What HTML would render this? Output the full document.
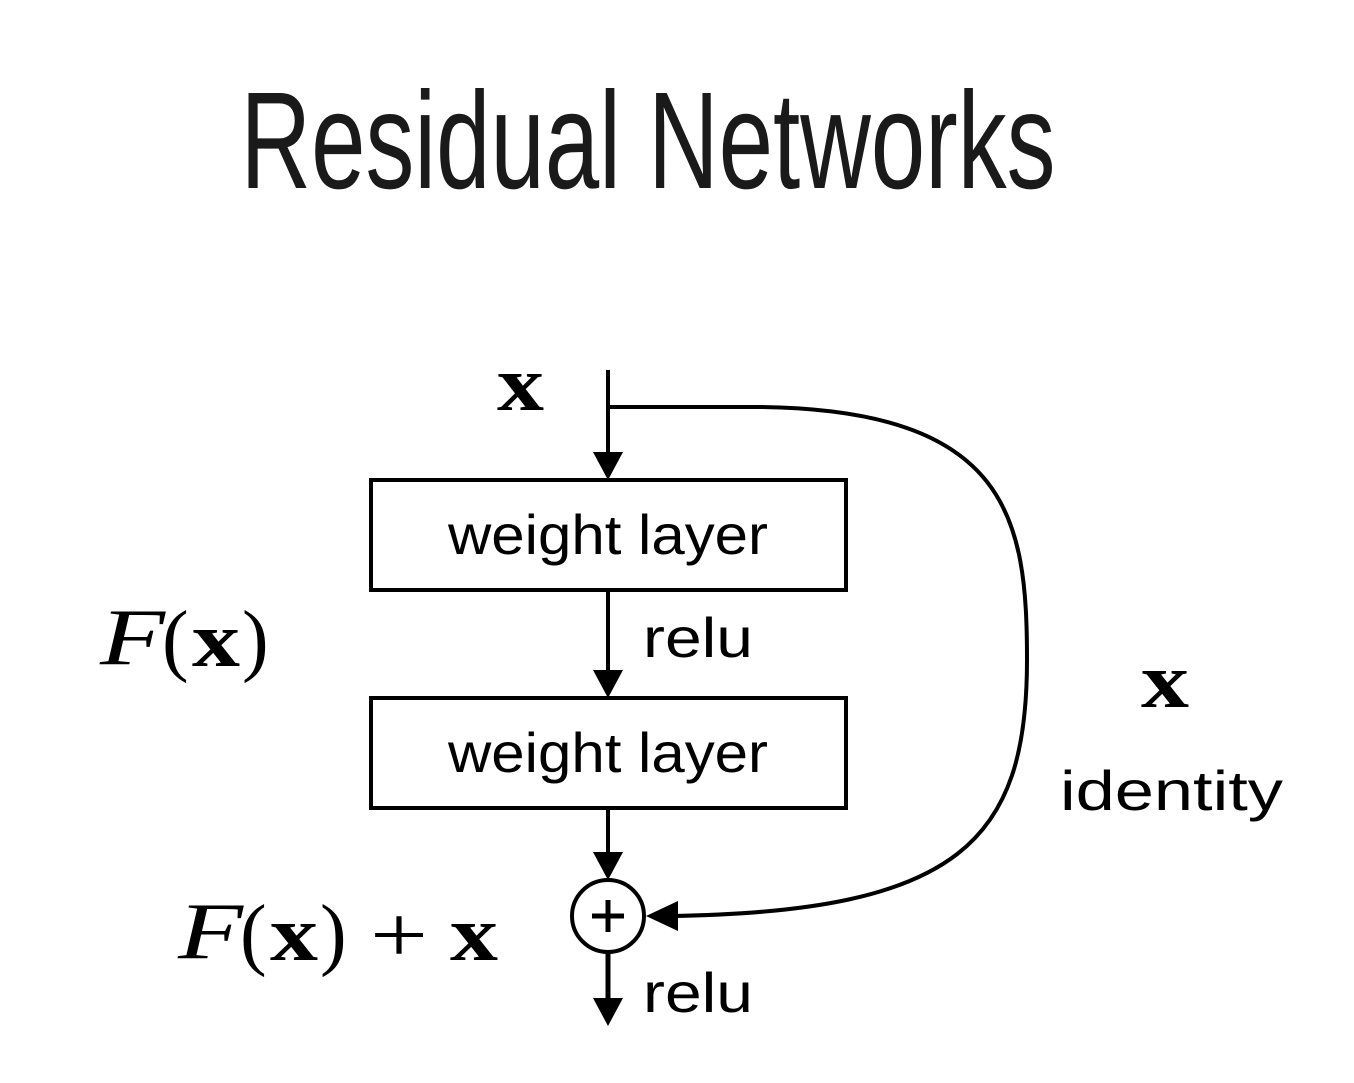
<!DOCTYPE html>
<html><head><meta charset="utf-8"><style>
html,body{margin:0;padding:0;background:#fff;width:1354px;height:1083px;overflow:hidden}
</style></head><body>
<svg width="1354" height="1083" viewBox="0 0 1354 1083" xmlns="http://www.w3.org/2000/svg">
<text x="648" y="188" text-anchor="middle" font-family="Liberation Sans Narrow, Liberation Sans, sans-serif" font-size="138" fill="#1a1a1a" textLength="815" lengthAdjust="spacingAndGlyphs">Residual Networks</text>

<g stroke="#000" stroke-width="4" fill="none">
<line x1="608" y1="370" x2="608" y2="458"/>
<rect x="371" y="480" width="475" height="110"/>
<line x1="608" y1="590" x2="608" y2="675"/>
<rect x="371" y="698" width="475" height="110"/>
<line x1="608" y1="808" x2="608" y2="860"/>
<circle cx="608" cy="916" r="36"/>
<path d="M608 407 L760 407 C1010 410 1027 520 1027 660 C1027 840 960 912 670 916"/>
</g>
<g stroke="#000" stroke-width="5" fill="none">
<line x1="592" y1="916" x2="624" y2="916"/>
<line x1="608" y1="900" x2="608" y2="932"/>
<line x1="608" y1="952" x2="608" y2="1005"/>
</g>
<g fill="#000">
<polygon points="593,452 623,452 608,480"/>
<polygon points="593,670 623,670 608,698"/>
<polygon points="593,852 623,852 608,880"/>
<polygon points="593,998 623,998 608,1026"/>
<polygon points="678,901 678,931 646,916"/>
</g>

<g font-family="Liberation Sans, DejaVu Sans, sans-serif" fill="#000" font-size="56">
<text x="448" y="554" textLength="320" lengthAdjust="spacingAndGlyphs">weight layer</text>
<text x="448" y="772" textLength="320" lengthAdjust="spacingAndGlyphs">weight layer</text>
<text x="643" y="657" textLength="110" lengthAdjust="spacingAndGlyphs">relu</text>
<text x="643" y="1012" textLength="110" lengthAdjust="spacingAndGlyphs">relu</text>
<text x="1060" y="810" textLength="223" lengthAdjust="spacingAndGlyphs">identity</text>
</g>
<g font-family="Liberation Serif, DejaVu Serif, serif" fill="#000">
<text x="497" y="410" font-size="78" font-weight="bold" textLength="47" lengthAdjust="spacingAndGlyphs">x</text>
<text x="1141" y="707" font-size="78" font-weight="bold" textLength="48" lengthAdjust="spacingAndGlyphs">x</text>
<text x="100" y="664" font-size="80" font-style="italic" textLength="65" lengthAdjust="spacingAndGlyphs">F</text>
<text x="162" y="666" font-size="80">(</text>
<text x="192" y="666" font-size="78" font-weight="bold" textLength="48" lengthAdjust="spacingAndGlyphs">x</text>
<text x="242" y="666" font-size="80">)</text>
<text x="178" y="958" font-size="80" font-style="italic" textLength="65" lengthAdjust="spacingAndGlyphs">F</text>
<text x="240" y="960" font-size="80">(</text>
<text x="270" y="960" font-size="78" font-weight="bold" textLength="48" lengthAdjust="spacingAndGlyphs">x</text>
<text x="320" y="960" font-size="80">)</text>
<text x="370" y="962" font-size="80" textLength="58" lengthAdjust="spacingAndGlyphs">+</text>
<text x="450" y="960" font-size="78" font-weight="bold" textLength="48" lengthAdjust="spacingAndGlyphs">x</text>
</g>
</svg>
</body></html>
